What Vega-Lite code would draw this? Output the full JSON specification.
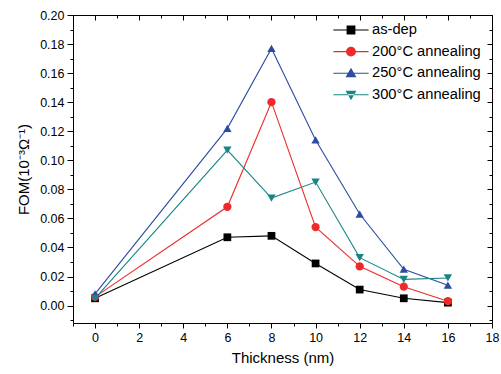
{
  "$schema": "https://vega.github.io/schema/vega-lite/v6.json",
  "width": 419,
  "height": 308,
  "autosize": {"type": "none"},
  "padding": {"left": 73, "top": 15, "right": 9, "bottom": 51},
  "background": "white",
  "config": {
    "view": {"stroke": "black", "strokeWidth": 1},
    "font": "Liberation Sans",
    "axis": {
      "labelFont": "Liberation Sans",
      "labelFontSize": 12.5,
      "labelColor": "black",
      "tickColor": "black",
      "tickWidth": 1,
      "domain": false,
      "grid": false,
      "titleFont": "Liberation Sans",
      "titleFontSize": 15,
      "titleFontWeight": "normal",
      "titleColor": "black"
    },
    "legend": {
      "labelFont": "Liberation Sans",
      "labelFontSize": 14.7,
      "labelColor": "black"
    }
  },
  "data": {
    "values": [
      {"series": "as-dep", "thickness": 0, "fom": 0.005},
      {"series": "as-dep", "thickness": 6, "fom": 0.047},
      {"series": "as-dep", "thickness": 8, "fom": 0.048},
      {"series": "as-dep", "thickness": 10, "fom": 0.029},
      {"series": "as-dep", "thickness": 12, "fom": 0.011},
      {"series": "as-dep", "thickness": 14, "fom": 0.005},
      {"series": "as-dep", "thickness": 16, "fom": 0.002},
      {"series": "200°C annealing", "thickness": 0, "fom": 0.006},
      {"series": "200°C annealing", "thickness": 6, "fom": 0.068},
      {"series": "200°C annealing", "thickness": 8, "fom": 0.140},
      {"series": "200°C annealing", "thickness": 10, "fom": 0.054},
      {"series": "200°C annealing", "thickness": 12, "fom": 0.027},
      {"series": "200°C annealing", "thickness": 14, "fom": 0.013},
      {"series": "200°C annealing", "thickness": 16, "fom": 0.003},
      {"series": "250°C annealing", "thickness": 0, "fom": 0.008},
      {"series": "250°C annealing", "thickness": 6, "fom": 0.122},
      {"series": "250°C annealing", "thickness": 8, "fom": 0.177},
      {"series": "250°C annealing", "thickness": 10, "fom": 0.114},
      {"series": "250°C annealing", "thickness": 12, "fom": 0.063},
      {"series": "250°C annealing", "thickness": 14, "fom": 0.025},
      {"series": "250°C annealing", "thickness": 16, "fom": 0.014},
      {"series": "300°C annealing", "thickness": 0, "fom": 0.005},
      {"series": "300°C annealing", "thickness": 6, "fom": 0.107},
      {"series": "300°C annealing", "thickness": 8, "fom": 0.074},
      {"series": "300°C annealing", "thickness": 10, "fom": 0.085},
      {"series": "300°C annealing", "thickness": 12, "fom": 0.033},
      {"series": "300°C annealing", "thickness": 14, "fom": 0.018},
      {"series": "300°C annealing", "thickness": 16, "fom": 0.019}
    ]
  },
  "resolve": {"axis": {"x": "independent", "y": "independent"}},
  "layer": [
    {
      "mark": {"type": "point", "filled": true, "opacity": 0},
      "encoding": {
        "x": {
          "field": "thickness", "type": "quantitative",
          "scale": {"domain": [-1, 18], "nice": false, "zero": false},
          "axis": {"orient": "bottom", "values": [0, 2, 4, 6, 8, 10, 12, 14, 16, 18], "tickSize": 5, "labelPadding": 3, "title": "Thickness (nm)", "titlePadding": 7, "labelFlush": false}
        },
        "y": {
          "field": "fom", "type": "quantitative",
          "scale": {"domain": [-0.012, 0.2], "nice": false, "zero": false},
          "axis": {"orient": "left", "values": [0, 0.02, 0.04, 0.06, 0.08, 0.1, 0.12, 0.14, 0.16, 0.18, 0.2], "format": ".2f", "tickSize": 6, "labelPadding": 3, "title": "FOM(10⁻³Ω⁻¹)", "titlePadding": 8, "labelFlush": false}
        },
        "color": {
          "field": "series", "type": "nominal",
          "scale": {"domain": ["as-dep", "200°C annealing", "250°C annealing", "300°C annealing"], "range": ["#000000", "#ee2a2a", "#2c4ca4", "#178585"]},
          "legend": {
            "title": null, "orient": "none", "legendX": 270, "legendY": 7, "padding": 0,
            "symbolSize": 256, "symbolStrokeWidth": 0, "symbolOpacity": 1, "labelOffset": 13, "rowPadding": 6.6
          }
        },
        "shape": {
          "field": "series", "type": "nominal",
          "scale": {"domain": ["as-dep", "200°C annealing", "250°C annealing", "300°C annealing"], "range": ["M-2.2,-0.07H2.2V0.07H-2.2Z M-0.55,-0.55H0.55V0.55H-0.55Z", "M-2.2,-0.07H2.2V0.07H-2.2Z M0.62,0A0.62,0.62,0,1,1,-0.62,0A0.62,0.62,0,1,1,0.62,0Z", "M-2.2,-0.07H2.2V0.07H-2.2Z M0,-0.68L0.68,0.5H-0.68Z", "M-2.2,-0.07H2.2V0.07H-2.2Z M0,0.68L0.68,-0.5H-0.68Z"]},
          "legend": {
            "title": null, "orient": "none", "legendX": 270, "legendY": 7, "padding": 0,
            "symbolSize": 256, "symbolStrokeWidth": 0, "symbolOpacity": 1, "labelOffset": 13, "rowPadding": 6.6
          }
        }
      }
    },
    {
      "mark": {"type": "line", "strokeWidth": 1.1},
      "encoding": {
        "x": {"field": "thickness", "type": "quantitative", "axis": null},
        "y": {"field": "fom", "type": "quantitative", "axis": null},
        "color": {"field": "series", "type": "nominal"},
        "order": {"field": "thickness", "type": "quantitative"}
      }
    },
    {
      "transform": [{"filter": "datum.series === 'as-dep'"}],
      "mark": {"type": "point", "shape": "square", "filled": true, "size": 60, "opacity": 1, "strokeWidth": 0},
      "encoding": {
        "x": {
          "field": "thickness", "type": "quantitative",
          "axis": {"orient": "bottom", "values": [-1, 1, 3, 5, 7, 9, 11, 13, 15, 17], "tickSize": 3, "labels": false, "title": null}
        },
        "y": {
          "field": "fom", "type": "quantitative",
          "axis": {"orient": "left", "values": [-0.01, 0.01, 0.03, 0.05, 0.07, 0.09, 0.11, 0.13, 0.15, 0.17, 0.19], "tickSize": 3, "labels": false, "title": null}
        },
        "color": {"field": "series", "type": "nominal"}
      }
    },
    {
      "transform": [{"filter": "datum.series === '200°C annealing'"}],
      "mark": {"type": "point", "shape": "circle", "filled": true, "size": 68, "opacity": 1, "strokeWidth": 0},
      "encoding": {
        "x": {"field": "thickness", "type": "quantitative", "axis": null},
        "y": {"field": "fom", "type": "quantitative", "axis": null},
        "color": {"field": "series", "type": "nominal"}
      }
    },
    {
      "transform": [{"filter": "datum.series === '250°C annealing'"}],
      "mark": {"type": "point", "shape": "triangle-up", "filled": true, "size": 70, "opacity": 1, "strokeWidth": 0},
      "encoding": {
        "x": {"field": "thickness", "type": "quantitative", "axis": null},
        "y": {"field": "fom", "type": "quantitative", "axis": null},
        "color": {"field": "series", "type": "nominal"}
      }
    },
    {
      "transform": [{"filter": "datum.series === '300°C annealing'"}],
      "mark": {"type": "point", "shape": "triangle-down", "filled": true, "size": 70, "opacity": 1, "strokeWidth": 0},
      "encoding": {
        "x": {"field": "thickness", "type": "quantitative", "axis": null},
        "y": {"field": "fom", "type": "quantitative", "axis": null},
        "color": {"field": "series", "type": "nominal"}
      }
    },
    {
      "mark": {"type": "point", "opacity": 0},
      "encoding": {
        "x": {
          "field": "thickness", "type": "quantitative",
          "axis": {"orient": "top", "values": [0, 2, 4, 6, 8, 10, 12, 14, 16, 18], "tickSize": -5, "labels": false, "title": null}
        },
        "y": {
          "field": "fom", "type": "quantitative",
          "axis": {"orient": "right", "values": [0, 0.02, 0.04, 0.06, 0.08, 0.1, 0.12, 0.14, 0.16, 0.18, 0.2], "tickSize": -5, "labels": false, "title": null}
        }
      }
    },
    {
      "mark": {"type": "point", "opacity": 0},
      "encoding": {
        "x": {
          "field": "thickness", "type": "quantitative",
          "axis": {"orient": "top", "values": [-1, 1, 3, 5, 7, 9, 11, 13, 15, 17], "tickSize": -3, "labels": false, "title": null}
        },
        "y": {
          "field": "fom", "type": "quantitative",
          "axis": {"orient": "right", "values": [-0.01, 0.01, 0.03, 0.05, 0.07, 0.09, 0.11, 0.13, 0.15, 0.17, 0.19], "tickSize": -3, "labels": false, "title": null}
        }
      }
    }
  ]
}
